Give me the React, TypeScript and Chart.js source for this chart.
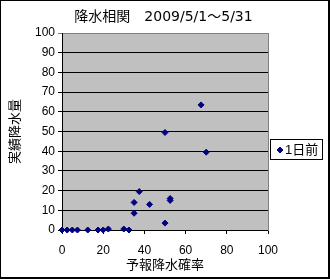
import { useEffect, useRef } from "react";
import { Chart, registerables } from "chart.js";

Chart.register(...registerables);

const chartTitle = "降水相関　2009/5/1～5/31";
const xAxisTitle = "予報降水確率";
const yAxisTitle = "実績降水量";
const seriesName = "1日前";

const forecastProb = [0, 2.5, 5, 7.5, 12.5, 17.5, 20, 22.5, 30, 32.5, 35, 35, 37.5, 42.5, 50, 50, 52.5, 52.5, 67.5, 70];
const actualRain = [0, 0, 0, 0, 0, 0, 0, 0.5, 0.5, 0, 8.5, 14, 19.5, 13, 3.5, 49.5, 16, 15, 63.5, 39.5];

const xTickValues = [0, 20, 40, 60, 80, 100];
const yTickValues = [0, 10, 20, 30, 40, 50, 60, 70, 80, 90, 100];

const FONT = '"Liberation Sans", "Noto Sans CJK JP", sans-serif';
const TITLE_FONT = '"DejaVu Sans", "Noto Sans CJK JP", sans-serif';
const MARK = "#000080";

const decorPlugin = {
  id: "decor",
  beforeDraw(chart: any) {
    const { ctx, chartArea: a, width, height } = chart;
    ctx.save();
    ctx.fillStyle = "#ffffff";
    ctx.fillRect(0, 0, width, height);
    ctx.fillStyle = "#c0c0c0";
    ctx.fillRect(a.left, a.top, a.right - a.left, a.bottom - a.top);
    ctx.restore();
  },
  beforeDatasetsDraw(chart: any) {
    const { ctx, chartArea: a } = chart;
    ctx.save();
    ctx.strokeStyle = "#808080";
    ctx.lineWidth = 1;
    ctx.beginPath();
    ctx.moveTo(a.right + 0.5, a.top);
    ctx.lineTo(a.right + 0.5, a.bottom + 1);
    ctx.stroke();
    ctx.restore();
  },
  afterDraw(chart: any) {
    const { ctx, width, height } = chart;
    ctx.save();
    // title
    ctx.fillStyle = "#000";
    ctx.font = `14px ${TITLE_FONT}`;
    ctx.textAlign = "center";
    ctx.textBaseline = "middle";
    ctx.fillText(chartTitle, 163.5, 17);
    // outer frame
    ctx.fillRect(0, 0, 1, height);
    ctx.fillRect(0, 0, width, 1);
    ctx.fillRect(width - 2, 0, 2, height);
    ctx.fillRect(0, height - 2, width, 2);
    // legend
    const lx = 270, ly = 139, lw = 52, lh = 20;
    ctx.fillStyle = "#fff";
    ctx.fillRect(lx, ly, lw, lh);
    ctx.strokeStyle = "#000";
    ctx.lineWidth = 1;
    ctx.strokeRect(lx + 0.5, ly + 0.5, lw, lh);
    const cx = 280, cy = 150, r = 3;
    ctx.fillStyle = MARK;
    ctx.strokeStyle = MARK;
    ctx.beginPath();
    ctx.moveTo(cx - r, cy);
    ctx.lineTo(cx, cy - r);
    ctx.lineTo(cx + r, cy);
    ctx.lineTo(cx, cy + r);
    ctx.closePath();
    ctx.fill();
    ctx.stroke();
    ctx.fillStyle = "#000";
    ctx.font = `13px ${FONT}`;
    ctx.textAlign = "left";
    ctx.textBaseline = "middle";
    ctx.fillText(seriesName, 285, 150);
    ctx.restore();
  },
};

export default function App() {
  const ref = useRef<HTMLCanvasElement | null>(null);

  useEffect(() => {
    if (!ref.current) return;
    Chart.defaults.font.family = FONT;
    Chart.defaults.color = "#000";
    const points = forecastProb.map((x, i) => ({ x, y: actualRain[i] }));
    const chart = new Chart(ref.current, {
      type: "scatter",
      data: {
        datasets: [
          {
            label: seriesName,
            data: points,
            pointStyle: "rectRot",
            radius: 3,
            borderWidth: 1,
            backgroundColor: MARK,
            borderColor: MARK,
            clip: false as any,
          },
        ],
      },
      options: {
        animation: false,
        responsive: false,
        devicePixelRatio: 1,
        events: [],
        layout: { padding: { left: 0, right: 62, top: 33, bottom: 0 } },
        plugins: {
          legend: { display: false },
          tooltip: { enabled: false },
          title: { display: false },
        },
        scales: {
          x: {
            type: "linear",
            min: 0,
            max: 100,
            afterBuildTicks: (s: any) => {
              s.ticks = xTickValues.map((v) => ({ value: v }));
            },
            afterFit: (s: any) => {
              s.height = 49;
            },
            ticks: { font: { size: 12 }, color: "#000", padding: 9, maxRotation: 0 },
            grid: { drawOnChartArea: false, drawTicks: true, tickLength: 4, color: "#000" },
            border: { display: true, color: "#000" },
            title: {
              display: true,
              text: xAxisTitle,
              color: "#000",
              font: { size: 13, family: FONT },
              padding: { top: 0, bottom: 6 },
            },
          },
          y: {
            type: "linear",
            min: 0,
            max: 100,
            afterBuildTicks: (s: any) => {
              s.ticks = yTickValues.map((v) => ({ value: v }));
            },
            afterFit: (s: any) => {
              s.width = 62;
            },
            ticks: { font: { size: 12 }, color: "#000", padding: 3 },
            grid: {
              drawTicks: true,
              tickLength: 4,
              color: (c: any) => (c.tick && c.tick.value === 100 ? "#808080" : "#000"),
            },
            border: { display: true, color: "#000" },
            title: {
              display: true,
              text: yAxisTitle,
              color: "#000",
              font: { size: 13, family: FONT },
              padding: { top: 8, bottom: 0 },
            },
          },
        },
      },
      plugins: [decorPlugin],
    });
    return () => chart.destroy();
  }, []);

  return (
    <div style={{ position: "absolute", left: 0, top: 0, width: 330, height: 279 }}>
      <canvas ref={ref} width={330} height={279} style={{ display: "block" }} />
    </div>
  );
}
